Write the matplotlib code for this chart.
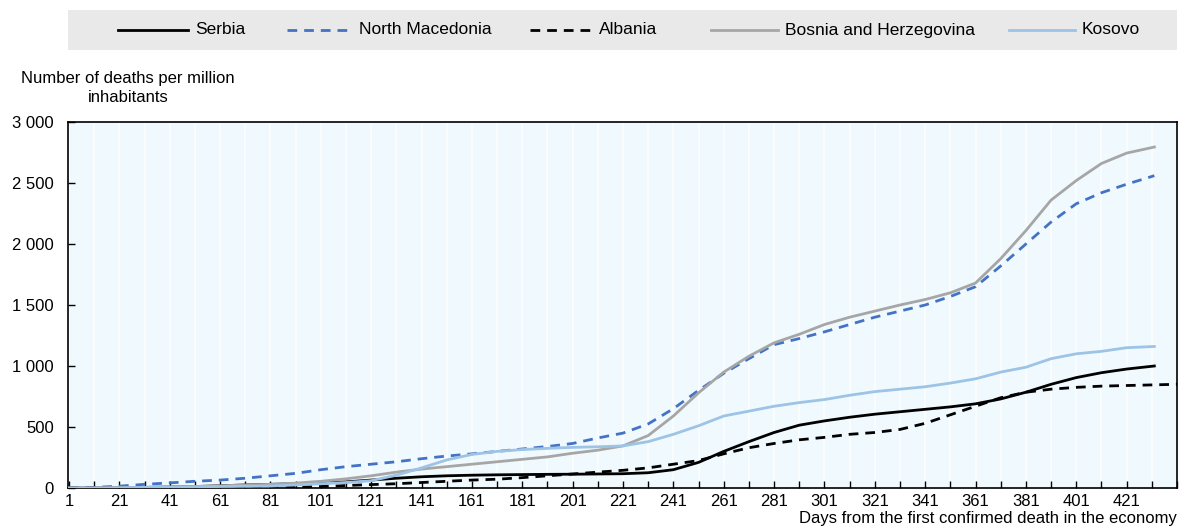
import matplotlib
matplotlib.use("Agg")
import matplotlib.pyplot as plt
from matplotlib.lines import Line2D
from matplotlib.patches import Rectangle
from matplotlib.ticker import FuncFormatter

plt.rcParams['font.family'] = ['Liberation Sans', 'DejaVu Sans']

days = [1, 11, 21, 31, 41, 51, 61, 71, 81, 91, 101, 111, 121, 131, 141, 151, 161, 171,
        181, 191, 201, 211, 221, 231, 241, 251, 261, 271, 281, 291, 301, 311, 321, 331,
        341, 351, 361, 371, 381, 391, 401, 411, 421, 432]
days_albania = days[:-1] + [431, 441]

serbia = [0, 0, 2, 5, 8, 12, 18, 25, 30, 35, 40, 50, 65, 80, 92, 100, 105, 108,
          110, 112, 113, 115, 117, 125, 150, 210, 300, 380, 455, 515, 550, 580, 605, 625,
          645, 665, 690, 730, 785, 850, 905, 945, 975, 1000]
north_macedonia = [0, 5, 15, 30, 42, 55, 65, 80, 100, 120, 150, 175, 195, 215, 240, 262, 280, 300,
                   320, 340, 365, 410, 450, 525, 650, 800, 940, 1060, 1175, 1225, 1280, 1340, 1400, 1450,
                   1500, 1570, 1650, 1820, 2000, 2180, 2330, 2420, 2490, 2560]
albania = [0, 0, 0, 0, 0, 0, 2, 3, 5, 8, 12, 20, 28, 35, 45, 55, 65, 72,
           85, 100, 115, 130, 145, 165, 195, 225, 280, 330, 365, 395, 415, 440, 455, 480,
           530, 600, 670, 740, 785, 810, 825, 835, 840, 845, 850]
bosnia = [0, 0, 2, 5, 8, 12, 18, 25, 30, 40, 55, 75, 100, 130, 155, 175, 195, 215,
          235, 255, 285, 310, 345, 430, 590, 780, 950, 1080, 1190, 1260, 1340, 1400, 1450, 1500,
          1545, 1600, 1680, 1880, 2110, 2360, 2520, 2660, 2745, 2795]
kosovo = [0, 0, 2, 5, 8, 10, 12, 14, 16, 25, 35, 45, 60, 105, 165, 230, 275, 300,
          315, 325, 333, 338, 345, 380, 440, 510, 590, 630, 670, 700, 725, 760, 790, 810,
          830, 860, 895, 950, 990, 1060, 1100, 1120, 1150, 1160]

labels = ["Serbia", "North Macedonia", "Albania", "Bosnia and Herzegovina", "Kosovo"]
x_tick_labels = list(range(1, 422, 20))
y_ticks = [0, 500, 1000, 1500, 2000, 2500, 3000]

styles = [
    dict(color="black", ls="-"),
    dict(color="#4472C4", ls=(0, (3.5, 2.5))),
    dict(color="black", ls=(0, (3.5, 2.5))),
    dict(color="#A6A6A6", ls="-"),
    dict(color="#9DC3E6", ls="-"),
]

fig = plt.figure(figsize=(12, 5.28), dpi=100)
ax = fig.add_axes([68 / 1200, 1 - 488 / 528, (1177 - 68) / 1200, (488 - 122) / 528])
ax.set_facecolor("#F0FAFE")

series = [(days, serbia), (days, north_macedonia), (days_albania, albania),
          (days, bosnia), (days, kosovo)]
order = [3, 4, 1, 0, 2]
for i in order:
    d, v = series[i]
    ax.plot(d, v, lw=2, zorder=3 + i, **styles[i])

ax.set_xlim(0.6, 441)
ax.set_ylim(0, 3000)
ax.set_xticks(list(range(1, 442, 10)))
ax.set_xticklabels([str(t) if t in x_tick_labels else "" for t in range(1, 442, 10)])
ax.set_yticks(y_ticks)
ax.yaxis.set_major_formatter(FuncFormatter(lambda v, p: f"{int(v):,}".replace(",", " ")))
ax.tick_params(axis="both", direction="in", length=5, width=1, labelsize=12, color="black")
ax.tick_params(axis="x", pad=4)
ax.tick_params(axis="y", pad=10)
ax.grid(axis="x", color="white", lw=1.2, alpha=0.8)
ax.set_axisbelow(True)
for s in ax.spines.values():
    s.set_color("black")
    s.set_linewidth(1.2)

# y label
fig.text(128 / 1200, 1 - 78 / 528, "Number of deaths per million", ha="center", va="center", fontsize=12)
fig.text(128 / 1200, 1 - 98 / 528, "inhabitants", ha="center", va="center", fontsize=12)
# x label
fig.text(1177 / 1200, 1 - 519 / 528, "Days from the first confirmed death in the economy",
         ha="right", va="center", fontsize=12)

# legend band
fig.patches.append(Rectangle((68 / 1200, 1 - 50 / 528), (1177 - 68) / 1200, 40 / 528,
                             transform=fig.transFigure, facecolor="#E9E9E9", edgecolor="none", zorder=0))
handle_x = [(118, 188), (287, 352), (530, 592), (711, 778), (1009, 1075)]
ly = 1 - 30 / 528
for (x0, x1), lab, st in zip(handle_x, labels, styles):
    fig.lines.append(Line2D([x0 / 1200, x1 / 1200], [ly, ly], transform=fig.transFigure, lw=2, **st))
    fig.text((x1 + 7) / 1200, ly, lab, ha="left", va="center", fontsize=12.5)

fig.savefig("out.png", dpi=100)
